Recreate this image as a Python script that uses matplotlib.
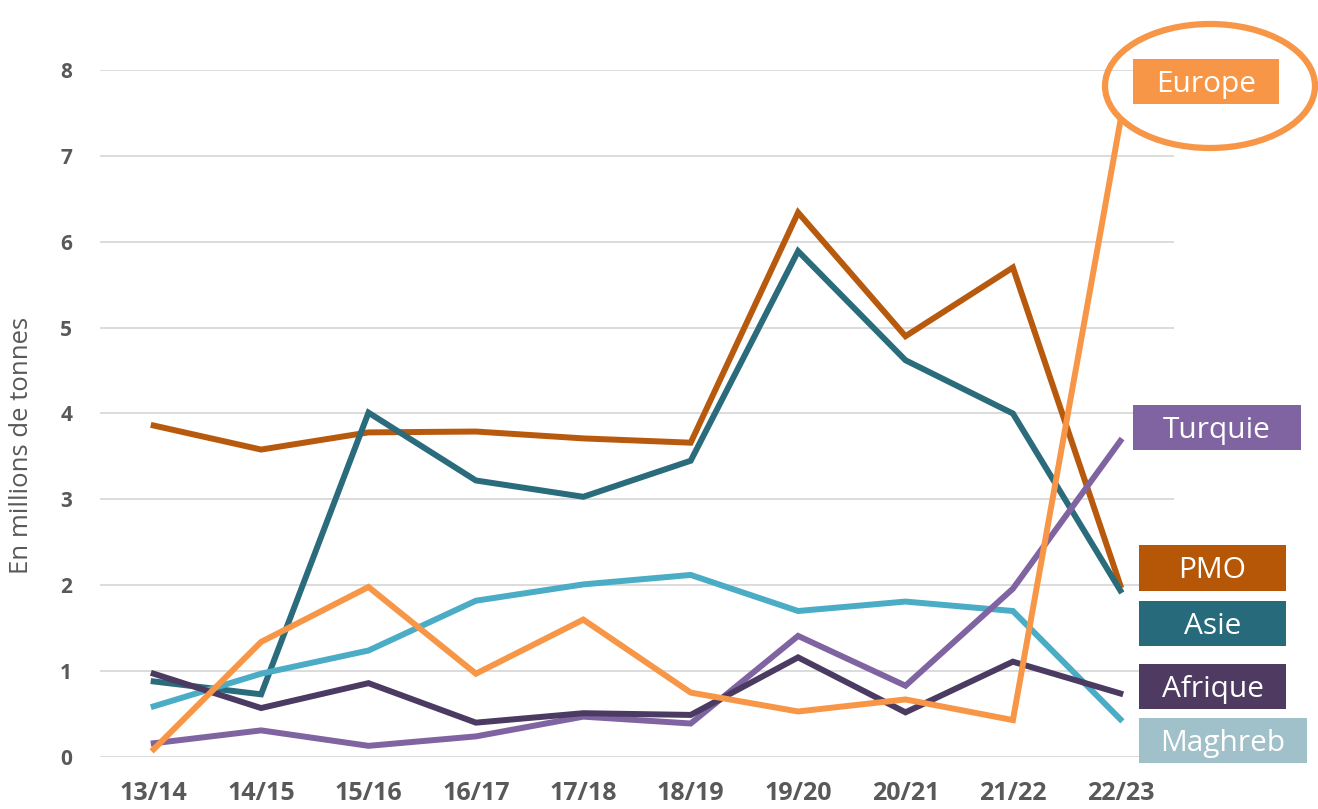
import matplotlib.pyplot as plt
from matplotlib.patches import Rectangle, Ellipse

campagnes = ["13/14", "14/15", "15/16", "16/17", "17/18",
             "18/19", "19/20", "20/21", "21/22", "22/23"]

pmo = [3.86, 3.58, 3.78, 3.79, 3.71, 3.66, 6.34, 4.90, 5.70, 2.00]
asie = [0.88, 0.73, 4.01, 3.22, 3.03, 3.45, 5.89, 4.62, 4.00, 1.94]
maghreb = [0.59, 0.97, 1.24, 1.82, 2.01, 2.12, 1.70, 1.81, 1.70, 0.44]
turquie = [0.16, 0.31, 0.13, 0.24, 0.47, 0.39, 1.41, 0.83, 1.96, 3.68]
afrique = [0.97, 0.57, 0.86, 0.40, 0.51, 0.49, 1.16, 0.52, 1.11, 0.74]
europe = [0.09, 1.34, 1.98, 0.97, 1.60, 0.75, 0.53, 0.67, 0.43, 7.40]

series = [
    ("PMO", pmo, "#B85A0D"),
    ("Asie", asie, "#2A6B7C"),
    ("Maghreb", maghreb, "#4BACC6"),
    ("Turquie", turquie, "#8064A2"),
    ("Afrique", afrique, "#4B3A62"),
    ("Europe", europe, "#F79646"),
]

# label boxes on the right: name, colour, (left, top, width, height) in pixels
boxes = [
    ("Europe", "#F79646", (1133, 59, 146, 45)),
    ("Turquie", "#8064A2", (1133, 405, 168, 45)),
    ("PMO", "#B65708", (1139, 545, 147, 46)),
    ("Asie", "#276A7C", (1139, 601, 147, 45)),
    ("Afrique", "#4F3A62", (1139, 664, 147, 45)),
    ("Maghreb", "#A0C1CA", (1139, 718, 168, 45)),
]

W, H = 1318, 809
FONT = "Open Sans"
GREY = "#595959"

fig = plt.figure(figsize=(W / 100, H / 100), dpi=100)
ax = fig.add_axes([100 / W, 1 - 757 / H, (1174 - 100) / W, (757 - 70) / H])

x = list(range(len(campagnes)))
for name, vals, color in series:
    ax.plot(x, vals, color=color, lw=4.3, solid_joinstyle="miter", zorder=3)

ax.set_xlim(-0.5, len(campagnes) - 0.5)
ax.set_ylim(0, 8)
ax.set_yticks(range(0, 9))
ax.set_xticks(x)
ax.set_xticklabels(campagnes)
ax.grid(axis="y", color="#D9D9D9", lw=1.3)
ax.set_axisbelow(True)
for sp in ax.spines.values():
    sp.set_visible(False)
ax.tick_params(length=0)
ax.tick_params(axis="x", pad=17)
ax.tick_params(axis="y", pad=20)
for lab in ax.get_xticklabels():
    lab.set_fontfamily(FONT)
    lab.set_fontweight("bold")
    lab.set_fontsize(18)
    lab.set_color(GREY)
for lab in ax.get_yticklabels():
    lab.set_fontfamily(FONT)
    lab.set_fontweight("bold")
    lab.set_fontsize(15)
    lab.set_color(GREY)

fig.text(22 / W, 1 - 445 / H, "En millions de tonnes", rotation=90,
         ha="center", va="center", fontsize=18.5, color=GREY, family=FONT)

for name, color, (left, top, w, h) in boxes:
    fig.patches.append(Rectangle((left / W, 1 - (top + h) / H), w / W, h / H,
                                 transform=fig.transFigure, facecolor=color,
                                 edgecolor="none", zorder=5))
    fig.text((left + w / 2) / W, 1 - (top + h / 2 + 3) / H, name, ha="center",
             va="center", fontsize=21.5, color="white", family=FONT, zorder=6)

fig.patches.append(Ellipse((1210 / W, 1 - 86 / H), 210 / W, 124 / H,
                           transform=fig.transFigure, facecolor="none",
                           edgecolor="#F79646", lw=4.5, zorder=7))

fig.savefig("out.png", dpi=100)
